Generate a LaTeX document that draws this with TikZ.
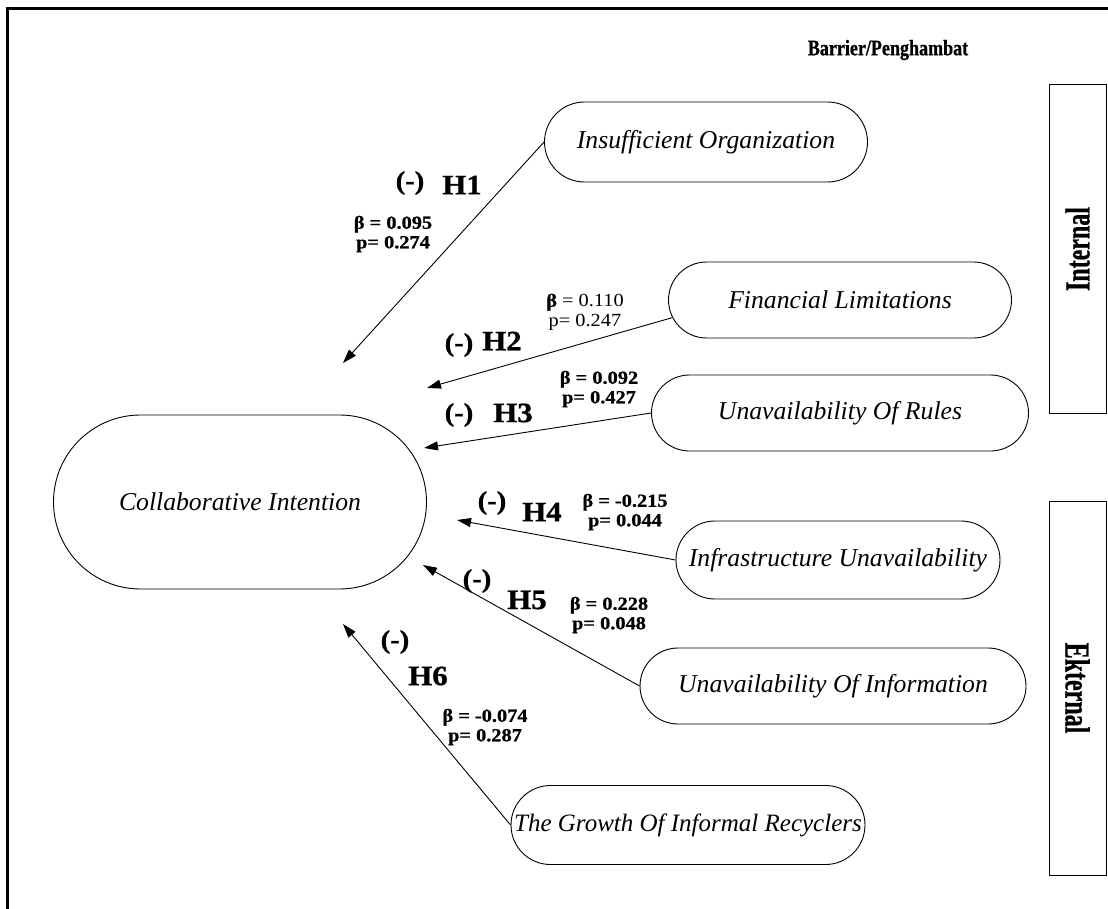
\documentclass[tikz,border=0pt]{standalone}
\usepackage{fontspec}
\setmainfont{Liberation Serif}[BoldFeatures={FakeBold=0.8}]
\usetikzlibrary{shapes.misc,arrows.meta}
\newcommand{\wide}[1]{\scalebox{1.1}[1]{#1}}
\begin{document}
\begin{tikzpicture}[x=1pt,y=-1pt,
  factor/.style={rounded rectangle, draw, line width=0.9pt, inner sep=0pt,
    font=\fontsize{25.7}{28}\selectfont\itshape},
  link/.style={line width=0.9pt, -{Triangle[length=14pt,width=9pt]}},
  sign/.style={inner sep=0pt, font=\fontsize{26}{28}\selectfont\bfseries},
  hyp/.style={inner sep=0pt, font=\fontsize{28}{30}\selectfont\bfseries},
  stat/.style={inner sep=0pt, align=center, font=\fontsize{18.5}{19.5}\selectfont\bfseries},
  statlight/.style={inner sep=0pt, align=center, font=\fontsize{18.5}{19.5}\selectfont},
  group/.style={draw, line width=1pt, inner sep=0pt, minimum height=57pt,
    font=\fontsize{24}{26}\selectfont\bfseries},
]
\useasboundingbox (0,0) rectangle (1108,909);

% frame (top and left edges only)
\draw[line width=3.3pt] (1108,8.5) -- (7.5,8.5) -- (7.5,909);

% heading
\node[inner sep=0pt, font=\fontsize{22}{24}\selectfont\bfseries] (head) at (888,50)
  {\scalebox{0.82}[1]{Barrier/Penghambat}};

% constructs
\node[factor, minimum width=373pt, minimum height=174pt] (ci) at (240,502) {Collaborative Intention};
\node[factor, minimum width=323pt, minimum height=80pt] (io) at (706,142) {Insufficient Organization};
\node[factor, minimum width=343pt, minimum height=76pt] (fl) at (840,300) {Financial Limitations};
\node[factor, minimum width=377pt, minimum height=76pt] (ur) at (840,413) {Unavailability Of Rules};
\node[factor, minimum width=324pt, minimum height=78pt] (iu) at (838,560) {Infrastructure Unavailability};
\node[factor, minimum width=386pt, minimum height=76pt] (ui) at (833,686) {Unavailability Of Information};
\node[factor, minimum width=354pt, minimum height=79pt, font=\fontsize{25}{27}\selectfont\itshape] (gr) at (688,825) {The Growth Of Informal Recyclers};

% barrier groups
\node[group, rotate=90, minimum width=328pt] (internal) at (1077.5,249) {\scalebox{1}[1.45]{Internal}};
\node[group, rotate=-90, minimum width=374pt] (external) at (1077.5,688) {\scalebox{1}[1.45]{Ekternal}};

% arrow heads end in free space left of the constructs
\coordinate (t1) at (343,363);
\coordinate (t2) at (427,388);
\coordinate (t3) at (424,448);
\coordinate (t4) at (457,520);
\coordinate (t5) at (423,565);
\coordinate (t6) at (343,624);

\draw[link] (io.west) -- (t1);
\draw[link] (fl.186) -- (t2);
\draw[link] (ur.west) -- (t3);
\draw[link] (iu.west) -- (t4);
\draw[link] (ui.west) -- (t5);
\draw[link] (gr.west) -- (t6);

% hypothesis labels
\node[sign] (s1) at (410,183) {\wide{(-)}};
\node[hyp]  (h1) at (462,185) {\wide{H1}};
\node[stat] (b1) at (393,234) {\wide{β = 0.095}\\\wide{p= 0.274}};

\node[sign] (s2) at (459,345) {\wide{(-)}};
\node[hyp]  (h2) at (502,341) {\wide{H2}};
\node[statlight] (b2) at (585,312) {\wide{\textbf{β} = 0.110}\\\wide{p= 0.247}};

\node[sign] (s3) at (459,415) {\wide{(-)}};
\node[hyp]  (h3) at (513,413) {\wide{H3}};
\node[stat] (b3) at (599,389) {\wide{β = 0.092}\\\wide{p= 0.427}};

\node[sign] (s4) at (492,503) {\wide{(-)}};
\node[hyp]  (h4) at (542,512) {\wide{H4}};
\node[stat] (b4) at (625,512) {\wide{β = -0.215}\\\wide{p= 0.044}};

\node[sign] (s5) at (477,581) {\wide{(-)}};
\node[hyp]  (h5) at (527,600) {\wide{H5}};
\node[stat] (b5) at (609,615) {\wide{β = 0.228}\\\wide{p= 0.048}};

\node[sign] (s6) at (395,642) {\wide{(-)}};
\node[hyp]  (h6) at (428,676) {\wide{H6}};
\node[stat] (b6) at (485,727) {\wide{β = -0.074}\\\wide{p= 0.287}};
\end{tikzpicture}
\end{document}
